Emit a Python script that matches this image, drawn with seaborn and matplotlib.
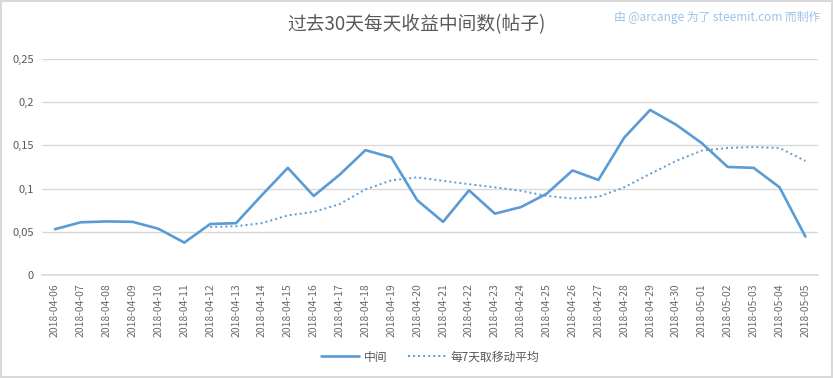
import numpy as np
import pandas as pd
import matplotlib.pyplot as plt
import seaborn as sns

sns.set_theme(style="white")
plt.rcParams['font.family'] = ['Noto Sans CJK SC', 'DejaVu Sans']

dates = ["2018-04-06", "2018-04-07", "2018-04-08", "2018-04-09", "2018-04-10",
         "2018-04-11", "2018-04-12", "2018-04-13", "2018-04-14", "2018-04-15",
         "2018-04-16", "2018-04-17", "2018-04-18", "2018-04-19", "2018-04-20",
         "2018-04-21", "2018-04-22", "2018-04-23", "2018-04-24", "2018-04-25",
         "2018-04-26", "2018-04-27", "2018-04-28", "2018-04-29", "2018-04-30",
         "2018-05-01", "2018-05-02", "2018-05-03", "2018-05-04", "2018-05-05"]
median = [0.053, 0.061, 0.062, 0.0615, 0.0535, 0.0375, 0.059, 0.060, 0.0925, 0.124,
          0.0915, 0.116, 0.1445, 0.136, 0.0865, 0.0615, 0.098, 0.071, 0.0785, 0.094,
          0.121, 0.110, 0.159, 0.191, 0.174, 0.1525, 0.125, 0.124, 0.1015, 0.0445]
moving_avg = [np.nan] * 6 + [0.0555, 0.0565, 0.060, 0.069, 0.073, 0.082, 0.099, 0.1095,
                             0.113, 0.109, 0.105, 0.1015, 0.0975, 0.0915, 0.0885, 0.0905,
                             0.1015, 0.117, 0.132, 0.144, 0.147, 0.148, 0.147, 0.132]

df = pd.DataFrame({"date": dates, "median": median, "ma": moving_avg})
df["pos"] = np.arange(len(df))

blue = "#5B9BD5"
fig = plt.figure(figsize=(8.33, 3.78), dpi=100)
ax = fig.add_axes([0.0504, 0.2725, 0.932, 0.5715])

sns.lineplot(data=df, x="pos", y="median", ax=ax, color=blue, linewidth=1.9,
             label="中间")
sns.lineplot(data=df, x="pos", y="ma", ax=ax, color=blue, linewidth=1.4,
             linestyle=(0, (1, 1.6)), label="每7天取移动平均")

ax.set_xlim(-0.5, len(df) - 0.5)
ax.set_ylim(0, 0.25)
yticks = [0, 0.05, 0.1, 0.15, 0.2, 0.25]
ax.set_yticks(yticks)
ax.set_yticklabels(["0", "0,05", "0,1", "0,15", "0,2", "0,25"], color="#595959", fontsize=8)
ax.set_xticks(df["pos"])
ax.set_xticklabels(df["date"], rotation=90, color="#6b6b6b", fontsize=7.5)
ax.tick_params(axis="both", length=0, pad=6)
ax.grid(axis="y", color="#D9D9D9", linewidth=1)
for s in ["top", "right", "left"]:
    ax.spines[s].set_visible(False)
ax.spines["bottom"].set_color("#D9D9D9")
ax.set_xlabel("")
ax.set_ylabel("")

leg = ax.legend(loc="center", bbox_to_anchor=(0.5, -0.38), ncol=2, frameon=False,
                fontsize=8.5, handlelength=3.2, handletextpad=0.4, columnspacing=1.8,
                labelcolor="#595959")

fig.text(0.5, 0.935, "过去30天每天收益中间数(帖子)", ha="center", va="center",
         fontsize=13.5, color="#595959")
fig.text(0.985, 0.955, "由 @arcange 为了 steemit.com 而制作", ha="right", va="center",
         fontsize=8.5, color="#9DC3E6")

fig.patches.append(plt.Rectangle((0.001, 0.002), 0.998, 0.996, transform=fig.transFigure,
                                 fill=False, edgecolor="#D9D9D9", linewidth=1.5))

fig.savefig("out.png", dpi=100)
